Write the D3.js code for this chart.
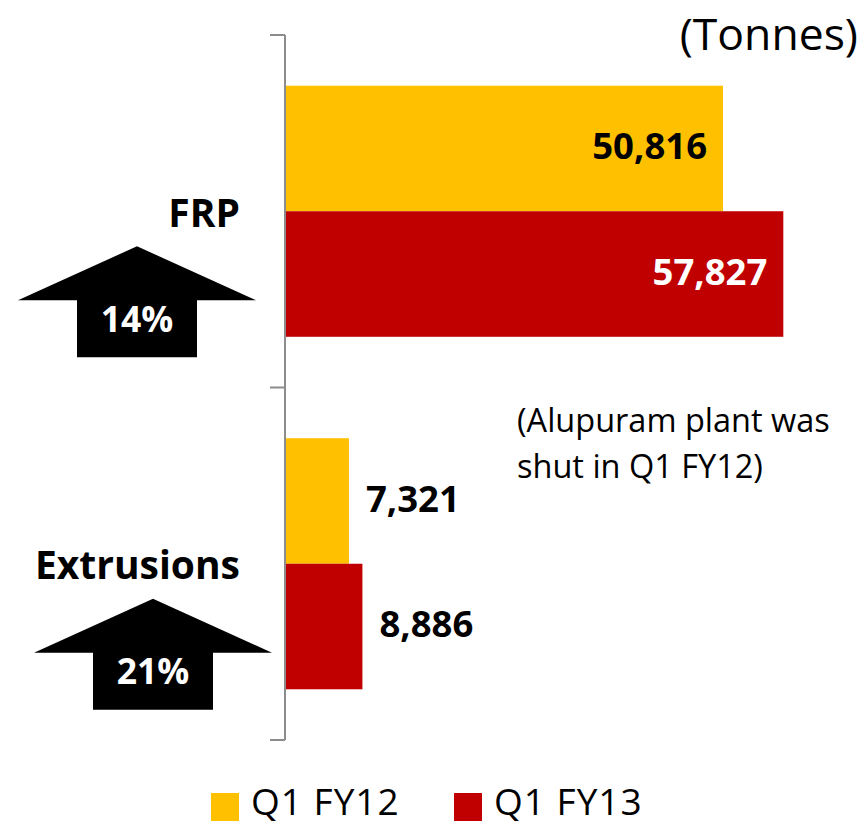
<!DOCTYPE html>
<html>
<head>
<meta charset="utf-8">
<script src="https://cdn.jsdelivr.net/npm/d3@7/dist/d3.min.js"></script>
<style>
  body { margin: 0; background: #fff; }
  svg text { font-family: "Open Sans", Lato, sans-serif; }
</style>
</head>
<body>
<div id="chartDiv"></div>
<script>
const categories = ['FRP', 'Extrusions'];
const seriesNames = ['Q1 FY12', 'Q1 FY13'];
const fy12 = [50816, 7321];
const fy13 = [57827, 8886];
const growth = ['14%', '21%'];

const colors = ['#FFC000', '#C00000'];

const data = categories.map((c, i) => ({
    category: c,
    growth: growth[i],
    values: [fy12[i], fy13[i]]
}));

const W = 865, H = 826;
const svg = d3.select('#chartDiv').append('svg')
    .attr('width', W)
    .attr('height', H);

const x = d3.scaleLinear()
    .domain([0, 60000])
    .range([286, 802]);

const y0 = d3.scaleBand()
    .domain(categories)
    .range([35, 740])
    .padding(0);

const y1 = d3.scaleBand()
    .domain(seriesNames)
    .range([0, y0.bandwidth()])
    .paddingInner(0)
    .paddingOuter(0.404);

// axis line with category boundary ticks
const edges = [35, y0('Extrusions'), 740];
svg.append('line')
    .attr('x1', 285).attr('x2', 285)
    .attr('y1', 35).attr('y2', 740)
    .attr('stroke', '#8c8c8c').attr('stroke-width', 2);
svg.selectAll('.tick-line')
    .data(edges)
    .enter().append('line')
    .attr('x1', 270).attr('x2', 285)
    .attr('y1', d => d).attr('y2', d => d)
    .attr('stroke', '#8c8c8c').attr('stroke-width', 2);

// bars
const groups = svg.selectAll('.cat')
    .data(data)
    .enter().append('g')
    .attr('class', 'cat')
    .attr('transform', d => `translate(0,${y0(d.category)})`);

const barData = d => d.values.map((v, j) => ({ v, j, inside: d.category === 'FRP' }));

groups.selectAll('rect')
    .data(barData)
    .enter().append('rect')
    .attr('x', x(0))
    .attr('y', d => y1(seriesNames[d.j]))
    .attr('width', d => x(d.v) - x(0))
    .attr('height', y1.bandwidth())
    .attr('fill', d => colors[d.j]);

groups.selectAll('.val')
    .data(barData)
    .enter().append('text')
    .attr('class', 'val')
    .attr('x', d => d.inside ? x(d.v) - 16 : x(d.v) + 17)
    .attr('y', d => y1(seriesNames[d.j]) + y1.bandwidth() / 2 - 2)
    .attr('dy', '0.35em')
    .attr('text-anchor', d => d.inside ? 'end' : 'start')
    .attr('font-size', 36.5)
    .attr('font-weight', 'bold')
    .attr('fill', d => (d.inside && d.j === 1) ? '#ffffff' : '#000000')
    .text(d => d3.format(',')(d.v));

// category labels
groups.append('text')
    .attr('x', 240)
    .attr('y', y0.bandwidth() / 2 + 2)
    .attr('dy', '0.35em')
    .attr('text-anchor', 'end')
    .attr('font-size', 39)
    .attr('font-weight', 'bold')
    .attr('fill', '#000')
    .text(d => d.category);

// growth arrows
const arrowX = [137, 153];
const arrow = groups.append('g')
    .attr('transform', (d, i) => `translate(${arrowX[i]},${y0.bandwidth() / 2 + 35})`);
arrow.append('path')
    .attr('d', 'M0,0 L119,54 L60,54 L60,111 L-60,111 L-60,54 L-119,54 Z')
    .attr('fill', '#000');
arrow.append('text')
    .attr('x', 0)
    .attr('y', 73)
    .attr('dy', '0.35em')
    .attr('text-anchor', 'middle')
    .attr('font-size', 35.5)
    .attr('font-weight', 'bold')
    .attr('fill', '#fff')
    .text(d => d.growth);

// unit
svg.append('text')
    .attr('x', 858)
    .attr('y', 50)
    .attr('text-anchor', 'end')
    .attr('font-size', 44.5)
    .attr('fill', '#000')
    .text('(Tonnes)');

// note
const note = svg.append('text')
    .attr('font-size', 32.5)
    .attr('fill', '#000');
note.append('tspan').attr('x', 517).attr('y', 432).text('(Alupuram plant was');
note.append('tspan').attr('x', 517).attr('y', 478).text('shut in Q1 FY12)');

// legend
const legX = [211, 454];
const leg = svg.selectAll('.leg')
    .data(seriesNames)
    .enter().append('g')
    .attr('class', 'leg')
    .attr('transform', (d, i) => `translate(${legX[i]},793)`);
leg.append('rect')
    .attr('width', 28).attr('height', 28)
    .attr('fill', (d, i) => colors[i]);
leg.append('text')
    .attr('x', 40)
    .attr('y', 22)
    .attr('font-size', 37)
    .attr('letter-spacing', 1)
    .attr('fill', '#000')
    .text(d => d);
</script>
</body>
</html>
